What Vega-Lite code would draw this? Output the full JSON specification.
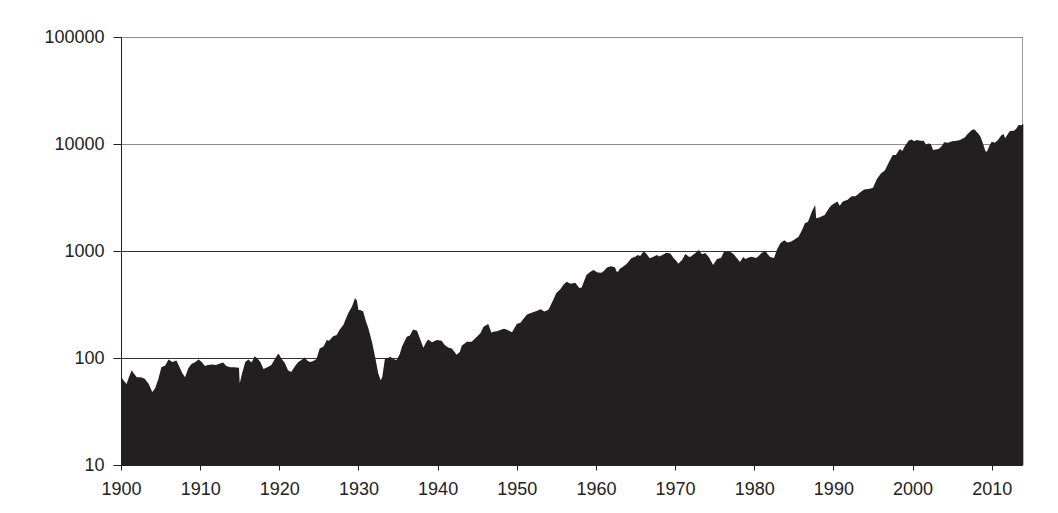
{
  "$schema": "https://vega.github.io/schema/vega-lite/v6.json",
  "width": 901,
  "height": 428,
  "autosize": "none",
  "padding": {"left": 121, "top": 37, "right": 36, "bottom": 48},
  "background": "white",
  "config": {"view": {"stroke": "#999999", "strokeWidth": 1}},
  "data": {"values": [
    {"year": 1900.0, "dji": 68}, {"year": 1900.3, "dji": 62}, {"year": 1900.7, "dji": 57}, {"year": 1901.0, "dji": 66},
    {"year": 1901.35, "dji": 77}, {"year": 1901.6, "dji": 72}, {"year": 1902.0, "dji": 66}, {"year": 1902.5, "dji": 66},
    {"year": 1903.0, "dji": 64}, {"year": 1903.5, "dji": 57}, {"year": 1903.95, "dji": 48}, {"year": 1904.3, "dji": 52},
    {"year": 1904.7, "dji": 63}, {"year": 1905.1, "dji": 82}, {"year": 1905.6, "dji": 85}, {"year": 1906.0, "dji": 97},
    {"year": 1906.5, "dji": 92}, {"year": 1907.0, "dji": 95}, {"year": 1907.3, "dji": 85}, {"year": 1907.75, "dji": 72},
    {"year": 1908.1, "dji": 66}, {"year": 1908.5, "dji": 80}, {"year": 1908.9, "dji": 88}, {"year": 1909.4, "dji": 92},
    {"year": 1909.8, "dji": 97}, {"year": 1910.2, "dji": 92}, {"year": 1910.6, "dji": 84}, {"year": 1911.0, "dji": 86},
    {"year": 1911.5, "dji": 87}, {"year": 1912.0, "dji": 86}, {"year": 1912.5, "dji": 89}, {"year": 1912.9, "dji": 91},
    {"year": 1913.3, "dji": 84}, {"year": 1913.8, "dji": 82}, {"year": 1914.3, "dji": 82}, {"year": 1914.9, "dji": 81},
    {"year": 1915.0, "dji": 58}, {"year": 1915.3, "dji": 72}, {"year": 1915.7, "dji": 92}, {"year": 1916.1, "dji": 97},
    {"year": 1916.5, "dji": 91}, {"year": 1916.9, "dji": 104}, {"year": 1917.3, "dji": 98}, {"year": 1917.6, "dji": 92},
    {"year": 1918.0, "dji": 79}, {"year": 1918.5, "dji": 82}, {"year": 1919.0, "dji": 86}, {"year": 1919.5, "dji": 100},
    {"year": 1919.9, "dji": 110}, {"year": 1920.3, "dji": 98}, {"year": 1920.7, "dji": 90}, {"year": 1921.1, "dji": 77},
    {"year": 1921.5, "dji": 74}, {"year": 1922.0, "dji": 84}, {"year": 1922.4, "dji": 92}, {"year": 1922.8, "dji": 96},
    {"year": 1923.2, "dji": 101}, {"year": 1923.6, "dji": 94}, {"year": 1923.9, "dji": 92}, {"year": 1924.3, "dji": 94},
    {"year": 1924.7, "dji": 98}, {"year": 1925.1, "dji": 123}, {"year": 1925.6, "dji": 128}, {"year": 1926.0, "dji": 147},
    {"year": 1926.3, "dji": 145}, {"year": 1926.8, "dji": 160}, {"year": 1927.25, "dji": 164}, {"year": 1927.6, "dji": 183},
    {"year": 1928.1, "dji": 205}, {"year": 1928.7, "dji": 262}, {"year": 1929.2, "dji": 305}, {"year": 1929.56, "dji": 361},
    {"year": 1929.8, "dji": 345}, {"year": 1930.0, "dji": 281}, {"year": 1930.3, "dji": 280}, {"year": 1930.6, "dji": 272},
    {"year": 1930.9, "dji": 225}, {"year": 1931.25, "dji": 190}, {"year": 1931.7, "dji": 142}, {"year": 1932.1, "dji": 103},
    {"year": 1932.5, "dji": 72}, {"year": 1932.8, "dji": 62}, {"year": 1933.0, "dji": 66}, {"year": 1933.35, "dji": 99},
    {"year": 1933.7, "dji": 100}, {"year": 1934.0, "dji": 103}, {"year": 1934.4, "dji": 98}, {"year": 1934.8, "dji": 96},
    {"year": 1935.2, "dji": 108}, {"year": 1935.5, "dji": 128}, {"year": 1936.1, "dji": 158}, {"year": 1936.5, "dji": 162},
    {"year": 1936.9, "dji": 185}, {"year": 1937.4, "dji": 180}, {"year": 1937.8, "dji": 150}, {"year": 1938.2, "dji": 125},
    {"year": 1938.5, "dji": 138}, {"year": 1938.8, "dji": 149}, {"year": 1939.3, "dji": 140}, {"year": 1939.9, "dji": 147},
    {"year": 1940.5, "dji": 145}, {"year": 1940.9, "dji": 132}, {"year": 1941.4, "dji": 125}, {"year": 1941.8, "dji": 123},
    {"year": 1942.4, "dji": 107}, {"year": 1942.8, "dji": 114}, {"year": 1943.05, "dji": 130}, {"year": 1943.7, "dji": 142},
    {"year": 1944.3, "dji": 142}, {"year": 1944.9, "dji": 156}, {"year": 1945.4, "dji": 170}, {"year": 1945.8, "dji": 196},
    {"year": 1946.4, "dji": 208}, {"year": 1946.8, "dji": 172}, {"year": 1947.0, "dji": 176}, {"year": 1947.5, "dji": 178},
    {"year": 1947.9, "dji": 183}, {"year": 1948.4, "dji": 188}, {"year": 1948.7, "dji": 185}, {"year": 1949.4, "dji": 174},
    {"year": 1950.0, "dji": 208}, {"year": 1950.5, "dji": 215}, {"year": 1950.8, "dji": 230}, {"year": 1951.3, "dji": 255},
    {"year": 1951.7, "dji": 262}, {"year": 1952.5, "dji": 275}, {"year": 1953.0, "dji": 285}, {"year": 1953.5, "dji": 272},
    {"year": 1954.0, "dji": 282}, {"year": 1954.6, "dji": 348}, {"year": 1955.0, "dji": 405}, {"year": 1955.5, "dji": 440},
    {"year": 1955.9, "dji": 485}, {"year": 1956.3, "dji": 515}, {"year": 1956.8, "dji": 495}, {"year": 1957.4, "dji": 505},
    {"year": 1957.9, "dji": 450}, {"year": 1958.2, "dji": 457}, {"year": 1958.8, "dji": 597}, {"year": 1959.3, "dji": 640},
    {"year": 1959.7, "dji": 664}, {"year": 1960.2, "dji": 630}, {"year": 1960.7, "dji": 625}, {"year": 1961.0, "dji": 650},
    {"year": 1961.4, "dji": 700}, {"year": 1961.9, "dji": 720}, {"year": 1962.4, "dji": 705}, {"year": 1962.6, "dji": 645},
    {"year": 1962.8, "dji": 640}, {"year": 1963.0, "dji": 680}, {"year": 1963.5, "dji": 720}, {"year": 1963.9, "dji": 760},
    {"year": 1964.5, "dji": 860}, {"year": 1964.9, "dji": 880}, {"year": 1965.3, "dji": 920}, {"year": 1965.6, "dji": 900},
    {"year": 1966.0, "dji": 990}, {"year": 1966.3, "dji": 960}, {"year": 1966.8, "dji": 855}, {"year": 1967.2, "dji": 880},
    {"year": 1967.7, "dji": 920}, {"year": 1968.0, "dji": 890}, {"year": 1968.4, "dji": 920}, {"year": 1968.9, "dji": 965},
    {"year": 1969.4, "dji": 950}, {"year": 1969.8, "dji": 860}, {"year": 1970.2, "dji": 800}, {"year": 1970.4, "dji": 760},
    {"year": 1970.9, "dji": 830}, {"year": 1971.3, "dji": 940}, {"year": 1971.7, "dji": 890}, {"year": 1971.9, "dji": 880},
    {"year": 1972.5, "dji": 950}, {"year": 1973.0, "dji": 1020}, {"year": 1973.4, "dji": 930}, {"year": 1973.8, "dji": 960},
    {"year": 1974.3, "dji": 870}, {"year": 1974.8, "dji": 740}, {"year": 1975.3, "dji": 840}, {"year": 1975.8, "dji": 860},
    {"year": 1976.2, "dji": 990}, {"year": 1976.6, "dji": 995}, {"year": 1977.0, "dji": 980}, {"year": 1977.4, "dji": 930},
    {"year": 1977.9, "dji": 840}, {"year": 1978.2, "dji": 790}, {"year": 1978.6, "dji": 880}, {"year": 1978.9, "dji": 840},
    {"year": 1979.3, "dji": 870}, {"year": 1979.7, "dji": 885}, {"year": 1980.2, "dji": 860}, {"year": 1980.5, "dji": 890},
    {"year": 1980.9, "dji": 955}, {"year": 1981.4, "dji": 1005}, {"year": 1981.7, "dji": 930}, {"year": 1982.0, "dji": 880},
    {"year": 1982.5, "dji": 860}, {"year": 1982.9, "dji": 1040}, {"year": 1983.3, "dji": 1180}, {"year": 1983.8, "dji": 1260},
    {"year": 1984.2, "dji": 1200}, {"year": 1984.6, "dji": 1220}, {"year": 1985.0, "dji": 1270}, {"year": 1985.6, "dji": 1360},
    {"year": 1986.0, "dji": 1550}, {"year": 1986.4, "dji": 1815}, {"year": 1986.8, "dji": 1880}, {"year": 1987.3, "dji": 2350},
    {"year": 1987.7, "dji": 2690}, {"year": 1987.83, "dji": 2020}, {"year": 1988.2, "dji": 2060}, {"year": 1988.9, "dji": 2168},
    {"year": 1989.5, "dji": 2550}, {"year": 1989.8, "dji": 2690}, {"year": 1990.5, "dji": 2900}, {"year": 1990.8, "dji": 2650},
    {"year": 1991.2, "dji": 2900}, {"year": 1991.8, "dji": 3010}, {"year": 1992.3, "dji": 3250}, {"year": 1992.8, "dji": 3250},
    {"year": 1993.4, "dji": 3550}, {"year": 1993.9, "dji": 3750}, {"year": 1994.6, "dji": 3820}, {"year": 1995.0, "dji": 3900},
    {"year": 1995.5, "dji": 4700}, {"year": 1996.0, "dji": 5300}, {"year": 1996.5, "dji": 5650}, {"year": 1997.0, "dji": 6700},
    {"year": 1997.5, "dji": 7900}, {"year": 1997.9, "dji": 7900}, {"year": 1998.4, "dji": 9000}, {"year": 1998.7, "dji": 8600},
    {"year": 1999.0, "dji": 9500}, {"year": 1999.5, "dji": 10744}, {"year": 1999.9, "dji": 11000}, {"year": 2000.2, "dji": 10600},
    {"year": 2000.5, "dji": 10900}, {"year": 2001.0, "dji": 10700}, {"year": 2001.4, "dji": 10744}, {"year": 2001.7, "dji": 9900},
    {"year": 2002.0, "dji": 10130}, {"year": 2002.3, "dji": 10000}, {"year": 2002.6, "dji": 8790}, {"year": 2002.9, "dji": 8900},
    {"year": 2003.3, "dji": 9000}, {"year": 2003.7, "dji": 9600}, {"year": 2004.0, "dji": 10400}, {"year": 2004.5, "dji": 10300},
    {"year": 2005.0, "dji": 10600}, {"year": 2005.6, "dji": 10744}, {"year": 2006.0, "dji": 10900}, {"year": 2006.6, "dji": 11500},
    {"year": 2006.9, "dji": 12300}, {"year": 2007.5, "dji": 13520}, {"year": 2007.8, "dji": 13700}, {"year": 2008.3, "dji": 12560},
    {"year": 2008.6, "dji": 11600}, {"year": 2008.9, "dji": 10130}, {"year": 2009.2, "dji": 8600}, {"year": 2009.4, "dji": 8480},
    {"year": 2009.7, "dji": 9600}, {"year": 2010.0, "dji": 10510}, {"year": 2010.4, "dji": 10300}, {"year": 2010.8, "dji": 10900},
    {"year": 2011.2, "dji": 12000}, {"year": 2011.5, "dji": 12400}, {"year": 2011.7, "dji": 11300}, {"year": 2012.0, "dji": 12300},
    {"year": 2012.3, "dji": 13200}, {"year": 2012.8, "dji": 13300}, {"year": 2013.1, "dji": 13900}, {"year": 2013.4, "dji": 15060},
    {"year": 2013.7, "dji": 15000}, {"year": 2014.0, "dji": 15400}
  ]},
  "mark": {"type": "area", "color": "#231F20", "interpolate": "linear", "opacity": 1},
  "encoding": {
    "x": {
      "field": "year", "type": "quantitative",
      "scale": {"domain": [1900, 2013.83], "nice": false, "zero": false},
      "axis": {
        "values": [1900, 1910, 1920, 1930, 1940, 1950, 1960, 1970, 1980, 1990, 2000, 2010],
        "format": "d", "title": null, "grid": false,
        "labelFont": "Liberation Sans", "labelFontSize": 18, "labelColor": "#222222",
        "tickColor": "#222222", "tickSize": 5, "labelPadding": 10,
        "domainColor": "#222222", "labelFlush": false, "labelOverlap": false
      }
    },
    "y": {
      "field": "dji", "type": "quantitative",
      "scale": {"type": "log", "domain": [10, 100000], "nice": false},
      "axis": {
        "values": [10, 100, 1000, 10000, 100000],
        "format": "d", "title": null, "grid": true,
        "gridColor": {"condition": {"test": "datum.value >= 10000", "value": "#8c8c8c"}, "value": "#333333"},
        "gridWidth": 1,
        "labelFont": "Liberation Sans", "labelFontSize": 18, "labelColor": "#222222",
        "tickColor": "#222222", "tickSize": 8, "labelPadding": 9,
        "domainColor": "#222222", "labelOverlap": false
      }
    },
    "y2": {"datum": 10}
  }
}
